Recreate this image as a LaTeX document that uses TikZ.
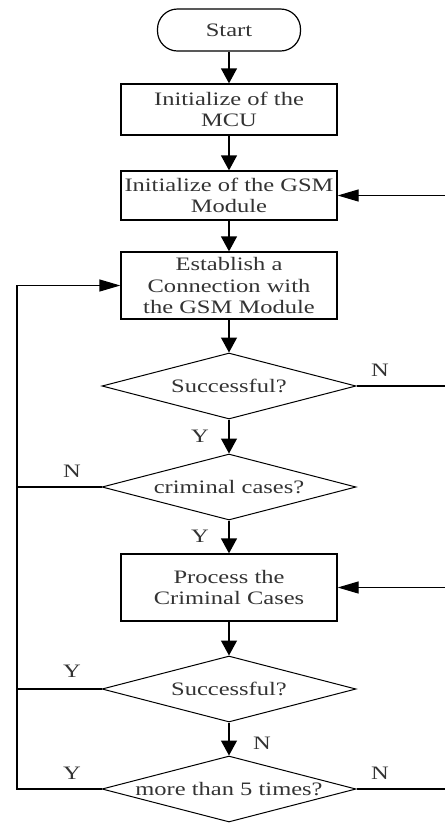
\documentclass[tikz,border=0pt]{standalone}
\usepackage{fontspec}
\setmainfont[FakeStretch=1.29]{Liberation Serif}
\usetikzlibrary{arrows.meta,shapes.geometric}
\begin{document}
\begin{tikzpicture}[x=1pt,y=-1pt,
  txt/.style={font=\fontsize{19}{21.5}\selectfont, text=black!80},
  box/.style={txt, draw, line width=1.3pt, minimum width=216pt, inner sep=0pt, align=center},
  term/.style={txt, draw, line width=1.2pt, rounded corners=20pt, minimum width=143pt, minimum height=42pt, inner sep=0pt},
  dia/.style={txt, draw, diamond, line width=1pt, aspect=3.85, minimum width=254pt, minimum height=66pt, inner sep=0pt},
  lbl/.style={txt, inner sep=0pt},
  conn/.style={line width=1.3pt},
  va/.style={conn, -{Triangle[length=15pt,width=16pt]}},
  ha/.style={conn, -{Triangle[length=21pt,width=12pt]}}]
\useasboundingbox (0,0) rectangle (445,823);

\node[term] (start) at (229,30) {Start};
\node[box, minimum height=51pt] (mcu) at (229,109.5) {Initialize of the\\MCU};
\node[box, minimum height=49pt] (gsm) at (229,195.5) {Initialize of the GSM\\Module};
\node[box, minimum height=67pt] (est) at (229,285.5) {Establish a\\Connection with\\the GSM Module};
\node[dia] (s1) at (229,386) {\makebox[0pt]{Successful?}};
\node[dia] (cc) at (229,487) {\makebox[0pt]{criminal cases?}};
\node[box, minimum height=67pt] (proc) at (229,587.5) {Process the\\Criminal Cases};
\node[dia] (s2) at (229,689) {\makebox[0pt]{Successful?}};
\node[dia] (m5) at (229,789) {\makebox[0pt]{more than 5 times?}};

\coordinate (rg) at (445,195.5);
\coordinate (rp) at (445,587.5);
\coordinate (rs1) at (445,386);
\coordinate (rm5) at (445,789);
\coordinate (lb) at (17,789);
\coordinate (lt) at (17,285.5);

\draw[va] (start) -- (mcu);
\draw[va] (mcu) -- (gsm);
\draw[va] (gsm) -- (est);
\draw[va] (est) -- (s1);
\draw[va] (s1) -- (cc);
\draw[va] (cc) -- (proc);
\draw[va] (proc) -- (s2);
\draw[va] (s2) -- (m5);
\draw[ha] (rg) -- (gsm);
\draw[ha] (rp) -- (proc);
\draw[conn] (s1.east) -- (rs1);
\draw[conn] (m5.east) -- (rm5);
\draw[ha] (m5.west) -- (lb) -- (lt) -- (est.west);
\draw[conn] (cc.west) -- (cc.west -| lb);
\draw[conn] (s2.west) -- (s2.west -| lb);

\node[lbl] (n1) at (380,370) {N};
\node[lbl] (y1) at (200,436) {Y};
\node[lbl] (n2) at (72,471) {N};
\node[lbl] (y2) at (200,536) {Y};
\node[lbl] (y3) at (72,671) {Y};
\node[lbl] (n3) at (262,743) {N};
\node[lbl] (y4) at (72,773) {Y};
\node[lbl] (n4) at (380,773) {N};
\end{tikzpicture}
\end{document}
